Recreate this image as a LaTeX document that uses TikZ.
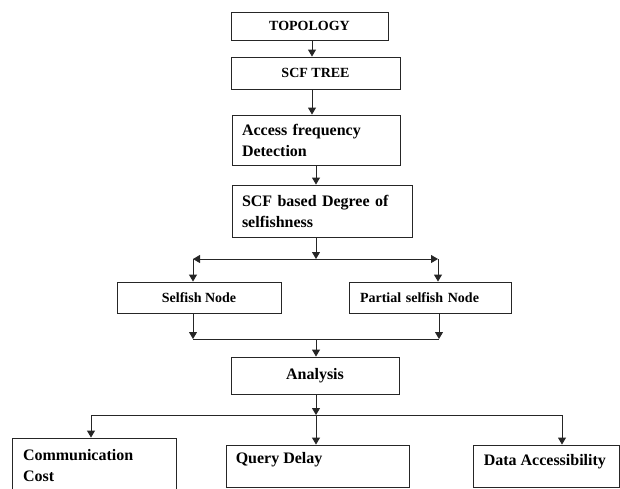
\documentclass[tikz,border=0pt]{standalone}
\usepackage{fontspec}
\setmainfont{Liberation Serif}
\usetikzlibrary{arrows.meta}

\begin{document}
\begin{tikzpicture}[x=1pt,y=-1pt,
box/.style={draw=black!85, line width=0.9pt, inner sep=0pt, font=\bfseries\fontsize{16}{21}\selectfont},
smallbox/.style={box, font=\bfseries\fontsize{14}{17}\selectfont},
leftbox/.style={box, align=left, inner xsep=10pt},
txt/.style={inner sep=0pt, font=\bfseries\fontsize{16}{21}\selectfont},
arr/.style={draw=black!85, line width=0.9pt, -{Triangle[length=7pt,width=8pt]}}]
\useasboundingbox (0,0) rectangle (620,488);
% BOXES
\node[smallbox, minimum width=157, minimum height=28] at (309.5,26) (topo) {TOPOLOGY};
\node[smallbox, minimum width=169, minimum height=32] at (315.5,73) (tree) {SCF TREE};
\node[leftbox, text width=148, minimum height=50] at (316,140) (access) {Access frequency\\Detection};
\node[leftbox, text width=160, minimum height=52] at (322,211) (degree) {SCF based Degree of\\selfishness};
\node[smallbox, minimum width=164, minimum height=31] at (199,297.5) (selfish) {Selfish Node};
\node[smallbox, align=left, inner xsep=11pt, text width=140, minimum height=31] at (430,297.5) (partial) {Partial selfish Node};
\node[box, minimum width=168, minimum height=37] at (315,375.5) (analysis) {Analysis};
\node[leftbox, inner xsep=11pt, text width=142, minimum height=56] at (94,466) (comm) {Communication\\Cost};
\node[box, minimum width=183, minimum height=42] at (317.5,466) (delay) {};
\node[box, minimum width=146, minimum height=42] at (546,466) (data) {};
% TEXT
\node[txt, anchor=base west] at ([shift={(10,19)}]delay.north west) (delay_text) {Query Delay};
\node[txt, anchor=base west] at ([shift={(11,21)}]data.north west) (data_text) {Data Accessibility};
% JUNCTIONS
\coordinate (split) at (316,259);
\coordinate (split_left) at (193,259);
\coordinate (split_right) at (438,259);
\coordinate (join) at (316,339);
\coordinate (join_left) at (193,339);
\coordinate (join_right) at (439,339);
\coordinate (fork) at (316,415);
\coordinate (fork_left) at (91,415);
\coordinate (fork_right) at (562,415);
% ARROWS
\draw[arr] ([xshift=2.5]topo.south) -- ([xshift=2.5]topo.south |- tree.north);
\draw[arr] ([xshift=-3.5]tree.south) -- ([xshift=-3.5]tree.south |- access.north);
\draw[arr] (access.south) -- (access.south |- degree.north);
\draw[arr] (degree.south -| split) -- (split); % Split to both node kinds
\draw[arr] (split) -- (split_left);
\draw[arr] (split) -- (split_right);
\draw[arr] (split_left) -- (split_left |- selfish.north);
\draw[arr] (split_right) -- (split_right |- partial.north);
\draw[arr] (selfish.south -| join_left) -- (join_left); % Join into analysis
\draw[arr] (partial.south -| join_right) -- (join_right);
\draw[draw=black!85, line width=0.9pt] (join_left) -- (join_right);
\draw[arr] (join) -- (join |- analysis.north);
\draw[arr] (analysis.south -| fork) -- (fork); % Fork to the three measures
\draw[draw=black!85, line width=0.9pt] (fork_left) -- (fork_right);
\draw[arr] (fork_left) -- (fork_left |- comm.north);
\draw[arr] (fork) -- (fork |- delay.north);
\draw[arr] (fork_right) -- (fork_right |- data.north);
\end{tikzpicture}
\end{document}
